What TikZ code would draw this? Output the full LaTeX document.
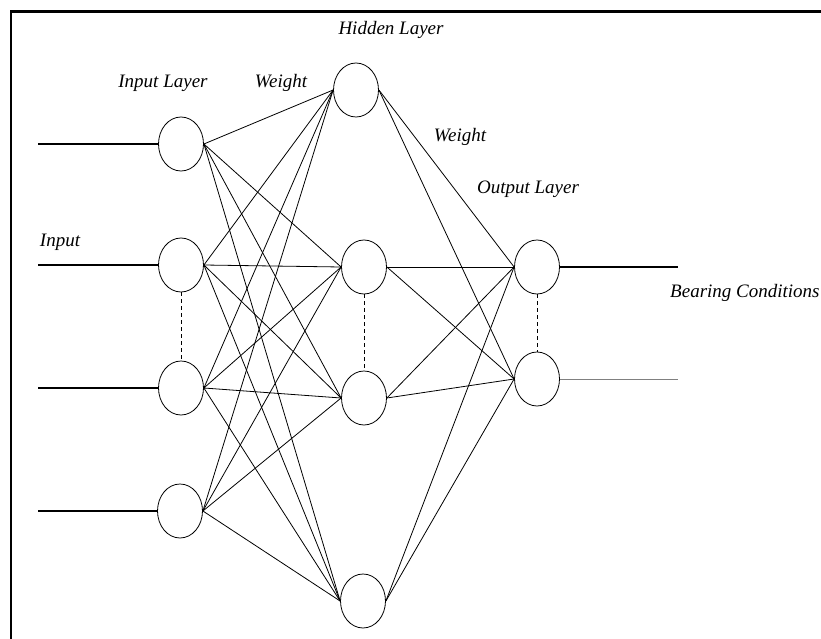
\documentclass[tikz,border=0pt]{standalone}
\usepackage{fontspec}
\setmainfont{Liberation Serif}
\usetikzlibrary{shapes.geometric}
\begin{document}
\begin{tikzpicture}[x=1pt,y=-1pt,
  neuron/.style={draw, ellipse, minimum width=45pt, minimum height=54pt, inner sep=0pt, line width=0.8pt},
  link/.style={line width=0.8pt},
  lead/.style={line width=1.2pt},
  gap/.style={line width=0.9pt, dash pattern=on 4pt off 3pt},
  lbl/.style={font=\fontsize{19}{22}\selectfont\itshape, inner sep=0pt}]
\useasboundingbox (0,0) rectangle (821,639);
% frame
\draw[line width=3pt] (10,12) -- (821,12);
\draw[line width=1.8pt] (11,12) -- (11,639);
% input layer
\node[neuron] (i1) at (181,144) {};
\node[neuron] (i2) at (181,265) {};
\node[neuron] (i3) at (181,388) {};
\node[neuron] (i4) at (180,511) {};
% hidden layer
\node[neuron] (h1) at (356,90) {};
\node[neuron] (h2) at (364,267) {};
\node[neuron] (h3) at (364,398) {};
\node[neuron] (h4) at (363,601) {};
% output layer
\node[neuron] (o1) at (537,267) {};
\node[neuron] (o2) at (537,379) {};
% inputs and outputs
\coordinate (a1) at (38,144);
\coordinate (a2) at (38,265);
\coordinate (a3) at (38,388);
\coordinate (a4) at (38,511);
\coordinate (b1) at (678,267);
\coordinate (b2) at (678,379);
\foreach \k in {1,2,3,4} \draw[lead] (a\k) -- (i\k.west);
\draw[lead] (o1.east) -- (b1);
\draw[link, gray] (o2.east) -- (b2);
% weights input -> hidden
\foreach \i in {1,2,3,4}
  \foreach \h in {1,2,3,4}
    \draw[link] (i\i.east) -- (h\h.west);
% weights hidden -> output
\foreach \h in {1,2,3,4}
  \foreach \o in {1,2}
    \draw[link] (h\h.east) -- (o\o.west);
% omitted units
\draw[gap] (i2.south) -- (i3.north);
\draw[gap] (h2.south) -- (h3.north);
\draw[gap] (o1.south) -- (o2.north);
% labels
\node[lbl] (tH) at (391,30) {Hidden Layer};
\node[lbl] (tI) at (163,83) {Input Layer};
\node[lbl] (tW1) at (281,83) {Weight};
\node[lbl] (tW2) at (460,137) {Weight};
\node[lbl] (tO) at (528,189) {Output Layer};
\node[lbl] (tIn) at (60,242) {Input};
\node[lbl, anchor=west] (tB) at (670,293) {Bearing Conditions};
\end{tikzpicture}
\end{document}
